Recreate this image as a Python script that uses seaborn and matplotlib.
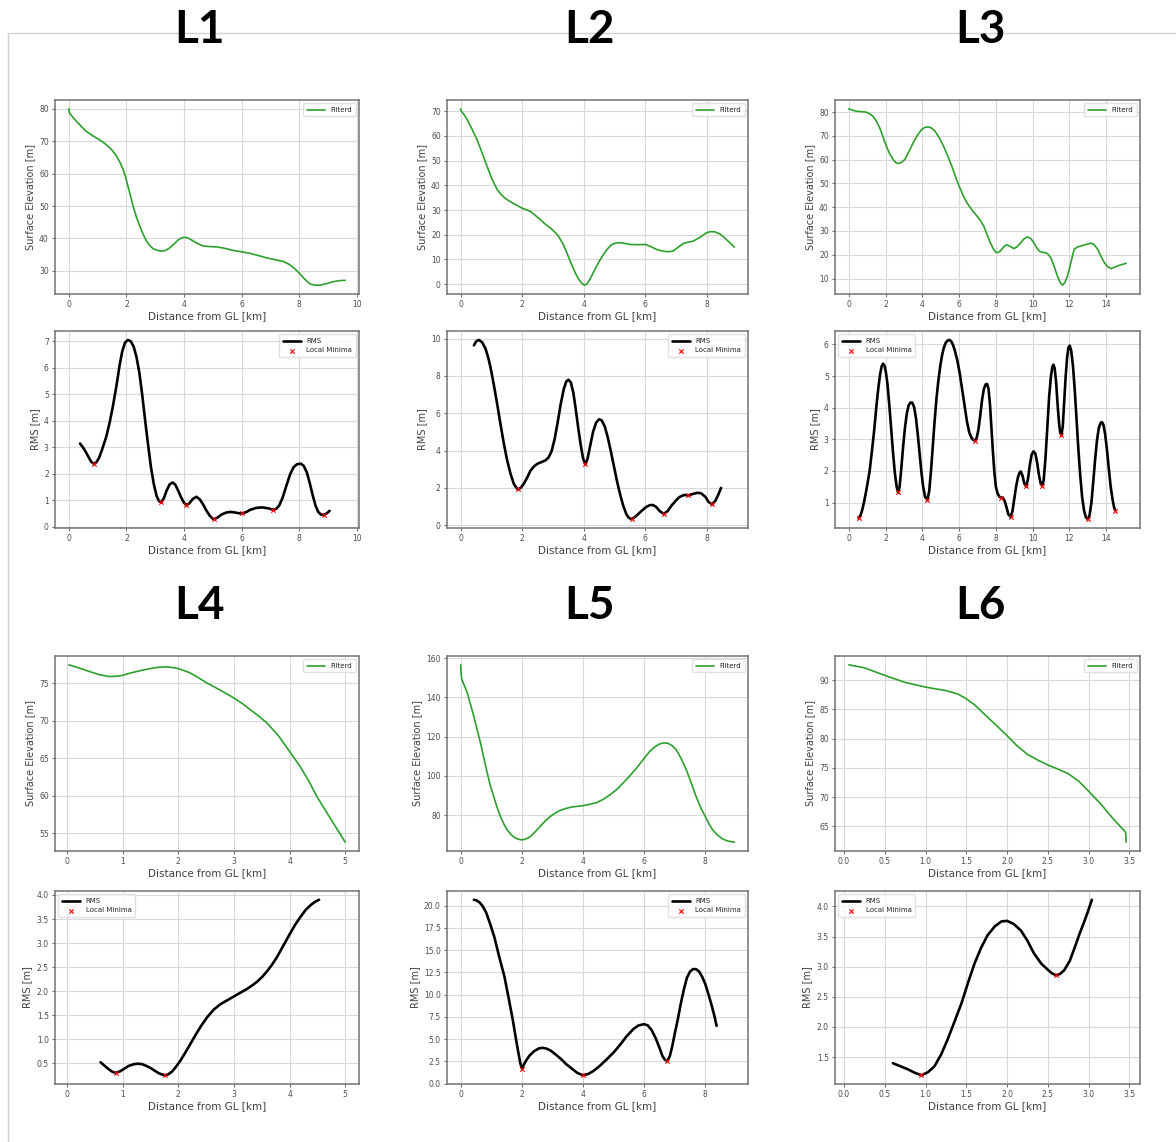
import matplotlib
matplotlib.use("Agg")
import matplotlib.pyplot as plt
import seaborn as sns
import pandas as pd
from matplotlib.lines import Line2D

sns.set_theme(style="whitegrid")
plt.rcParams['font.family'] = ['DejaVu Sans']

# ---------------- data ----------------
L1_elev_x = [0, 0.02, 0.13, 0.26, 0.43, 0.6, 0.83, 1.07, 1.25, 1.42, 1.55, 1.65, 1.77, 1.88, 1.97, 2.05, 2.14, 2.23, 2.34, 2.46, 2.58, 2.69, 2.8, 2.92, 3.05, 3.2, 3.35, 3.5, 3.65, 3.8, 3.92, 4.02, 4.15, 4.32, 4.5, 4.66, 4.9, 5.13, 5.4, 5.71, 6.0, 6.29, 6.6, 6.87, 7.15, 7.45, 7.65, 7.8, 7.92, 8.03, 8.15, 8.26, 8.38, 8.49, 8.6, 8.72, 8.95, 9.19, 9.4, 9.59]
L1_elev_y = [80.0, 78.8, 77.5, 76.2, 74.6, 73.1, 71.7, 70.4, 69.3, 68.0, 66.7, 65.5, 63.6, 61.4, 59.0, 56.2, 53.2, 50.0, 46.8, 43.9, 41.3, 39.3, 37.9, 36.9, 36.4, 36.1, 36.3, 37.1, 38.3, 39.6, 40.2, 40.4, 40.1, 39.2, 38.3, 37.7, 37.5, 37.4, 37.0, 36.3, 35.9, 35.4, 34.7, 34.0, 33.5, 32.9, 32.0, 31.0, 30.0, 29.0, 27.8, 26.8, 26.0, 25.7, 25.6, 25.6, 26.1, 26.7, 27.0, 27.1]
L1_rms_x = [0.39, 0.5, 0.6, 0.7, 0.78, 0.86, 0.95, 1.05, 1.15, 1.3, 1.42, 1.53, 1.65, 1.76, 1.85, 1.95, 2.05, 2.15, 2.25, 2.35, 2.45, 2.55, 2.65, 2.75, 2.85, 2.95, 3.05, 3.13, 3.21, 3.3, 3.4, 3.5, 3.6, 3.7, 3.8, 3.9, 4.0, 4.08, 4.18, 4.3, 4.43, 4.55, 4.66, 4.78, 4.9, 5.0, 5.05, 5.15, 5.3, 5.45, 5.6, 5.75, 5.9, 6.0, 6.15, 6.3, 6.5, 6.7, 6.9, 7.1, 7.2, 7.3, 7.42, 7.55, 7.68, 7.8, 7.92, 8.05, 8.15, 8.26, 8.36, 8.46, 8.56, 8.66, 8.75, 8.85, 8.95, 9.05]
L1_rms_y = [3.14, 2.98, 2.8, 2.6, 2.45, 2.38, 2.42, 2.6, 2.9, 3.4, 3.95, 4.55, 5.3, 6.08, 6.6, 6.95, 7.05, 7.0, 6.8, 6.4, 5.8, 4.95, 4.0, 3.1, 2.25, 1.6, 1.15, 0.97, 0.92, 1.08, 1.38, 1.6, 1.67, 1.58, 1.35, 1.1, 0.9, 0.82, 0.88, 1.05, 1.13, 1.03, 0.84, 0.6, 0.4, 0.3, 0.29, 0.34, 0.46, 0.53, 0.56, 0.54, 0.51, 0.5, 0.55, 0.64, 0.71, 0.73, 0.7, 0.64, 0.68, 0.8, 1.1, 1.55, 1.98, 2.25, 2.36, 2.38, 2.3, 2.05, 1.65, 1.2, 0.8, 0.55, 0.46, 0.45, 0.5, 0.6]
L1_min_x = [0.86, 3.21, 4.08, 5.05, 6.0, 7.1, 8.85]
L1_min_y = [2.38, 0.92, 0.82, 0.29, 0.5, 0.64, 0.45]

L2_elev_x = [0, 0.02, 0.12, 0.22, 0.38, 0.54, 0.7, 0.86, 1.02, 1.19, 1.35, 1.51, 1.75, 1.99, 2.26, 2.42, 2.59, 2.75, 2.91, 3.05, 3.18, 3.32, 3.45, 3.58, 3.72, 3.83, 3.94, 4.02, 4.1, 4.2, 4.31, 4.42, 4.53, 4.64, 4.77, 4.91, 5.05, 5.18, 5.34, 5.5, 5.75, 6.0, 6.18, 6.36, 6.52, 6.68, 6.8, 6.9, 7.06, 7.22, 7.38, 7.55, 7.78, 7.98, 8.12, 8.25, 8.4, 8.52, 8.7, 8.89]
L2_elev_y = [71.0, 70.0, 68.5, 66.4, 62.5, 58.3, 53.0, 47.6, 42.5, 38.2, 35.8, 34.2, 32.4, 30.8, 29.5, 27.9, 26.1, 24.3, 22.8, 21.2, 19.4, 16.4, 12.7, 8.6, 4.7, 2.0, 0.3, -0.4, 0.1, 2.0, 4.7, 7.4, 9.9, 12.1, 14.3, 16.1, 16.7, 16.8, 16.5, 16.1, 16.0, 16.1, 15.2, 14.1, 13.5, 13.2, 13.2, 13.4, 14.9, 16.4, 17.0, 17.4, 19.0, 20.8, 21.3, 21.2, 20.5, 19.4, 17.3, 15.0]
L2_rms_x = [0.43, 0.5, 0.59, 0.7, 0.81, 0.9, 0.97, 1.08, 1.19, 1.3, 1.4, 1.5, 1.62, 1.73, 1.85, 1.95, 2.05, 2.16, 2.26, 2.38, 2.5, 2.62, 2.75, 2.85, 2.95, 3.05, 3.15, 3.25, 3.35, 3.43, 3.5, 3.58, 3.66, 3.74, 3.82, 3.9, 3.98, 4.05, 4.12, 4.2, 4.3, 4.4, 4.5, 4.58, 4.68, 4.78, 4.88, 4.98, 5.08, 5.18, 5.28, 5.38, 5.46, 5.55, 5.65, 5.77, 5.9, 6.03, 6.15, 6.25, 6.35, 6.47, 6.6, 6.72, 6.85, 6.98, 7.1, 7.25, 7.4, 7.55, 7.7, 7.82, 7.95, 8.05, 8.17, 8.27, 8.36, 8.46]
L2_rms_y = [9.64, 9.85, 9.93, 9.8, 9.45, 8.95, 8.45, 7.5, 6.45, 5.35, 4.4, 3.55, 2.75, 2.2, 1.92, 2.0, 2.22, 2.55, 2.9, 3.15, 3.3, 3.38, 3.47, 3.62, 3.95, 4.6, 5.5, 6.5, 7.3, 7.7, 7.8, 7.65, 7.1, 6.2, 5.2, 4.3, 3.55, 3.27, 3.55, 4.2, 5.0, 5.5, 5.68, 5.62, 5.3, 4.7, 3.95, 3.15, 2.35, 1.65, 1.05, 0.6, 0.4, 0.33, 0.42, 0.6, 0.8, 0.98, 1.08, 1.08, 0.98, 0.75, 0.61, 0.75, 1.05, 1.3, 1.5, 1.62, 1.6, 1.68, 1.74, 1.7, 1.52, 1.25, 1.12, 1.3, 1.6, 2.0]
L2_min_x = [1.85, 4.05, 5.55, 6.6, 7.4, 8.17]
L2_min_y = [1.92, 3.27, 0.33, 0.61, 1.6, 1.12]

L3_elev_x = [0, 0.2, 0.4, 0.7, 0.95, 1.13, 1.31, 1.5, 1.68, 1.86, 2.04, 2.22, 2.41, 2.55, 2.68, 2.85, 3.05, 3.27, 3.5, 3.73, 3.96, 4.14, 4.32, 4.5, 4.69, 4.92, 5.15, 5.38, 5.6, 5.8, 6.0, 6.21, 6.42, 6.7, 6.97, 7.15, 7.34, 7.52, 7.7, 7.86, 8.01, 8.13, 8.25, 8.42, 8.58, 8.78, 8.98, 9.16, 9.34, 9.52, 9.71, 9.9, 10.07, 10.2, 10.35, 10.53, 10.71, 10.85, 10.99, 11.17, 11.35, 11.5, 11.62, 11.75, 11.9, 12.08, 12.26, 12.45, 12.63, 12.9, 13.18, 13.36, 13.54, 13.72, 13.9, 14.08, 14.27, 14.45, 14.63, 14.86, 15.09]
L3_elev_y = [81.4, 80.8, 80.4, 80.2, 80.0, 79.3, 78.3, 76.2, 73.4, 69.6, 65.7, 62.5, 60.1, 58.8, 58.4, 58.8, 60.1, 63.4, 67.1, 70.3, 72.7, 73.6, 73.8, 73.3, 72.0, 69.2, 65.7, 61.6, 57.3, 53.0, 48.9, 45.1, 41.9, 38.8, 36.3, 34.5, 32.1, 28.5, 25.1, 22.5, 20.9, 21.0, 21.6, 23.3, 24.2, 23.5, 22.6, 23.4, 24.9, 26.6, 27.5, 26.8, 25.1, 23.2, 21.6, 21.0, 20.9, 20.2, 18.8, 15.1, 11.1, 8.3, 7.2, 8.2, 11.1, 16.6, 22.3, 23.3, 23.7, 24.3, 24.9, 24.2, 22.3, 19.4, 16.7, 15.0, 14.2, 14.7, 15.3, 15.9, 16.4]
L3_rms_x = [0.53, 0.62, 0.72, 0.82, 0.92, 1.02, 1.13, 1.25, 1.38, 1.5, 1.6, 1.7, 1.78, 1.86, 1.94, 2.02, 2.1, 2.2, 2.3, 2.4, 2.5, 2.6, 2.68, 2.76, 2.85, 2.95, 3.05, 3.15, 3.25, 3.35, 3.45, 3.55, 3.65, 3.75, 3.85, 3.95, 4.05, 4.15, 4.27, 4.37, 4.47, 4.57, 4.67, 4.77, 4.87, 4.97, 5.07, 5.17, 5.27, 5.37, 5.47, 5.57, 5.67, 5.77, 5.9, 6.03, 6.16, 6.3, 6.43, 6.56, 6.7, 6.8, 6.88, 6.96, 7.05, 7.15, 7.25, 7.35, 7.45, 7.52, 7.6, 7.68, 7.76, 7.84, 7.92, 8.0, 8.1, 8.2, 8.28, 8.38, 8.48, 8.58, 8.68, 8.8, 8.9, 9.0, 9.1, 9.2, 9.3, 9.36, 9.45, 9.55, 9.65, 9.75, 9.85, 9.95, 10.05, 10.15, 10.25, 10.35, 10.45, 10.53, 10.6, 10.7, 10.8, 10.9, 11.0, 11.07, 11.13, 11.2, 11.28, 11.36, 11.44, 11.5, 11.57, 11.64, 11.72, 11.8, 11.88, 11.95, 12.02, 12.1, 12.2, 12.3, 12.4, 12.5, 12.6, 12.7, 12.8, 12.9, 13.0, 13.1, 13.2, 13.3, 13.4, 13.5, 13.6, 13.7, 13.78, 13.86, 13.95, 14.05, 14.15, 14.25, 14.35, 14.43, 14.5]
L3_rms_y = [0.51, 0.58, 0.75, 1.0, 1.3, 1.62, 2.0, 2.6, 3.3, 4.05, 4.6, 5.05, 5.3, 5.39, 5.33, 5.1, 4.75, 4.1, 3.35, 2.6, 1.95, 1.5, 1.32, 1.5, 2.05, 2.75, 3.35, 3.8, 4.07, 4.16, 4.16, 4.02, 3.68, 3.15, 2.55, 1.95, 1.48, 1.18, 1.08, 1.35, 2.0, 2.8, 3.6, 4.3, 4.85, 5.3, 5.65, 5.9, 6.05, 6.12, 6.14, 6.1, 5.98, 5.8, 5.5, 5.1, 4.6, 4.05, 3.55, 3.2, 3.02, 2.97, 2.96, 3.05, 3.3, 3.75, 4.25, 4.6, 4.74, 4.75, 4.6, 4.1, 3.35, 2.6, 1.95, 1.5, 1.28, 1.18, 1.16, 1.15, 1.05, 0.85, 0.63, 0.55, 0.72, 1.1, 1.5, 1.8, 1.96, 1.98, 1.85, 1.6, 1.51, 1.75, 2.2, 2.52, 2.62, 2.55, 2.25, 1.85, 1.58, 1.53, 1.7, 2.4, 3.4, 4.35, 5.0, 5.28, 5.36, 5.25, 4.8, 4.1, 3.5, 3.22, 3.14, 3.4, 4.2, 5.0, 5.6, 5.9, 5.96, 5.8, 5.3, 4.5, 3.55, 2.6, 1.8, 1.15, 0.75, 0.53, 0.48, 0.6, 1.0, 1.65, 2.35, 2.95, 3.35, 3.52, 3.54, 3.45, 3.15, 2.65, 2.05, 1.5, 1.1, 0.86, 0.75]
L3_min_x = [0.53, 2.68, 4.27, 6.88, 8.28, 8.8, 9.65, 10.53, 11.57, 13.0, 14.5]
L3_min_y = [0.51, 1.32, 1.08, 2.96, 1.16, 0.55, 1.51, 1.53, 3.14, 0.48, 0.75]

L4_elev_x = [0.03, 0.15, 0.28, 0.43, 0.58, 0.76, 0.9, 1.0, 1.15, 1.3, 1.45, 1.6, 1.78, 1.9, 1.99, 2.1, 2.2, 2.35, 2.5, 2.75, 2.99, 3.15, 3.29, 3.45, 3.59, 3.8, 4.0, 4.19, 4.35, 4.49, 4.64, 4.79, 4.9, 5.0]
L4_elev_y = [77.46, 77.2, 76.88, 76.5, 76.15, 75.9, 75.95, 76.07, 76.4, 76.66, 76.9, 77.1, 77.2, 77.1, 76.97, 76.7, 76.43, 75.8, 75.1, 74.1, 73.08, 72.3, 71.5, 70.6, 69.72, 68.0, 65.9, 63.9, 61.9, 59.9, 58.1, 56.3, 55.0, 53.8]
L4_rms_x = [0.6, 0.66, 0.72, 0.8, 0.87, 0.95, 1.02, 1.1, 1.2, 1.27, 1.35, 1.43, 1.5, 1.58, 1.65, 1.72, 1.76, 1.82, 1.89, 1.96, 2.04, 2.13, 2.22, 2.31, 2.4, 2.52, 2.64, 2.76, 2.88, 3.0, 3.12, 3.24, 3.33, 3.42, 3.51, 3.6, 3.69, 3.78, 3.89, 4.0, 4.1, 4.2, 4.29, 4.38, 4.46, 4.53]
L4_rms_y = [0.52, 0.46, 0.4, 0.33, 0.3, 0.33, 0.38, 0.44, 0.48, 0.49, 0.48, 0.44, 0.4, 0.34, 0.29, 0.26, 0.25, 0.27, 0.33, 0.43, 0.56, 0.73, 0.91, 1.09, 1.26, 1.46, 1.62, 1.73, 1.81, 1.89, 1.97, 2.05, 2.12, 2.2, 2.3, 2.42, 2.56, 2.72, 2.95, 3.18, 3.38, 3.55, 3.69, 3.79, 3.86, 3.9]
L4_min_x = [0.87, 1.76]
L4_min_y = [0.3, 0.25]

L5_elev_x = [0.0, 0.01, 0.03, 0.12, 0.22, 0.32, 0.43, 0.54, 0.65, 0.76, 0.87, 0.97, 1.08, 1.19, 1.3, 1.41, 1.52, 1.63, 1.74, 1.86, 1.98, 2.1, 2.2, 2.28, 2.44, 2.6, 2.76, 2.93, 3.1, 3.25, 3.45, 3.63, 3.82, 4.0, 4.22, 4.45, 4.66, 4.88, 5.1, 5.31, 5.53, 5.75, 5.97, 6.18, 6.35, 6.51, 6.65, 6.78, 6.92, 7.05, 7.2, 7.38, 7.55, 7.7, 7.85, 8.0, 8.12, 8.24, 8.4, 8.57, 8.75, 8.95]
L5_elev_y = [156.6, 153.0, 149.5, 146.0, 142.2, 136.5, 130.3, 123.5, 116.7, 109.0, 101.4, 95.0, 89.5, 84.0, 79.3, 75.5, 72.5, 70.3, 68.8, 67.8, 67.4, 67.6, 68.3, 69.1, 71.5, 74.2, 76.9, 79.3, 81.1, 82.4, 83.4, 84.1, 84.5, 84.8, 85.5, 86.4, 88.0, 90.3, 93.0, 96.3, 100.0, 103.9, 108.3, 112.4, 114.8, 116.3, 116.8, 116.6, 115.4, 113.3, 109.2, 103.1, 96.0, 89.5, 83.8, 79.3, 75.6, 72.5, 69.8, 67.8, 66.7, 66.2]
L5_rms_x = [0.43, 0.52, 0.62, 0.72, 0.83, 0.95, 1.1, 1.25, 1.43, 1.57, 1.7, 1.8, 1.88, 1.95, 2.0, 2.06, 2.14, 2.25, 2.4, 2.55, 2.67, 2.8, 2.94, 3.1, 3.27, 3.45, 3.65, 3.82, 4.0, 4.18, 4.35, 4.55, 4.78, 5.0, 5.21, 5.42, 5.65, 5.82, 6.0, 6.12, 6.25, 6.38, 6.5, 6.6, 6.68, 6.76, 6.84, 6.92, 7.0, 7.1, 7.2, 7.3, 7.4, 7.5, 7.6, 7.7, 7.8, 7.9, 8.0, 8.1, 8.2, 8.3, 8.37]
L5_rms_y = [20.67, 20.6, 20.37, 19.95, 19.26, 18.1, 16.49, 14.4, 12.05, 9.6, 7.25, 5.2, 3.6, 2.3, 1.7, 2.1, 2.6, 3.15, 3.65, 3.95, 4.03, 3.95, 3.73, 3.3, 2.81, 2.2, 1.65, 1.2, 0.95, 1.1, 1.45, 2.0, 2.75, 3.5, 4.35, 5.3, 6.15, 6.55, 6.69, 6.55, 6.0, 5.1, 4.05, 3.1, 2.7, 2.55, 3.1, 4.2, 5.6, 7.2, 9.0, 10.6, 11.9, 12.6, 12.88, 12.87, 12.6, 12.0, 11.2, 10.1, 8.9, 7.6, 6.5]
L5_min_x = [2.0, 4.0, 6.76]
L5_min_y = [1.7, 0.95, 2.55]

L6_elev_x = [0.06, 0.25, 0.5, 0.75, 1.0, 1.25, 1.4, 1.5, 1.6, 1.75, 1.88, 2.0, 2.12, 2.25, 2.38, 2.5, 2.62, 2.75, 2.88, 3.0, 3.15, 3.3, 3.44, 3.455, 3.46]
L6_elev_y = [92.6, 92.1, 90.8, 89.6, 88.8, 88.2, 87.6, 86.8, 85.8, 83.8, 82.1, 80.5, 78.8, 77.3, 76.3, 75.5, 74.8, 74.0, 72.7, 71.0, 68.8, 66.3, 64.2, 63.9, 62.3]
L6_rms_x = [0.6, 0.69, 0.78, 0.87, 0.95, 1.03, 1.11, 1.19, 1.27, 1.35, 1.44, 1.52, 1.6, 1.68, 1.76, 1.85, 1.93, 2.0, 2.08, 2.17, 2.25, 2.33, 2.42, 2.5, 2.55, 2.6, 2.65, 2.7, 2.77, 2.83, 2.89, 2.95, 3.0, 3.04]
L6_rms_y = [1.4, 1.35, 1.3, 1.24, 1.2, 1.25, 1.35, 1.54, 1.79, 2.07, 2.39, 2.73, 3.05, 3.31, 3.52, 3.67, 3.75, 3.76, 3.71, 3.6, 3.43, 3.22, 3.05, 2.95, 2.89, 2.86, 2.88, 2.94, 3.1, 3.32, 3.55, 3.76, 3.95, 4.11]
L6_min_x = [0.95, 2.6]
L6_min_y = [1.2, 2.86]

titles = ["L1", "L2", "L3", "L4", "L5", "L6"]
rms_legend_loc = ["upper right", "upper right", "upper left", "upper left", "upper right", "upper left"]

panels = [
    (L1_elev_x, L1_elev_y, L1_rms_x, L1_rms_y, L1_min_x, L1_min_y),
    (L2_elev_x, L2_elev_y, L2_rms_x, L2_rms_y, L2_min_x, L2_min_y),
    (L3_elev_x, L3_elev_y, L3_rms_x, L3_rms_y, L3_min_x, L3_min_y),
    (L4_elev_x, L4_elev_y, L4_rms_x, L4_rms_y, L4_min_x, L4_min_y),
    (L5_elev_x, L5_elev_y, L5_rms_x, L5_rms_y, L5_min_x, L5_min_y),
    (L6_elev_x, L6_elev_y, L6_rms_x, L6_rms_y, L6_min_x, L6_min_y),
]

# ---------------- layout ----------------
W, H = 1176, 1142
fig = plt.figure(figsize=(W / 100, H / 100), dpi=100)
fig.patch.set_facecolor("white")

cols = [(55, 359), (447, 748), (835, 1140)]
rows = [(100, 294), (331, 528), (656, 851), (891, 1084)]
title_pos = [(200, 30), (590, 30), (980, 30), (200, 606), (590, 606), (980, 606)]

# screenshot frame lines
fig.add_artist(Line2D([8 / W, 1], [1 - 33 / H, 1 - 33 / H], color="0.82", lw=1.0, zorder=0))
fig.add_artist(Line2D([8 / W, 8 / W], [1 - 33 / H, 0], color="0.82", lw=1.0, zorder=0))


def add_ax(c, r):
    x0, x1 = cols[c]
    y0, y1 = rows[r]
    return fig.add_axes([x0 / W, 1 - y1 / H, (x1 - x0) / W, (y1 - y0) / H])


def style(ax, ylabel):
    ax.set_facecolor("white")
    for s in ax.spines.values():
        s.set_color("0.45")
        s.set_linewidth(1.1)
    ax.grid(True, color="0.85", lw=0.8)
    ax.tick_params(axis="both", labelsize=5.5, colors="0.3", length=2.5, width=0.6,
                   bottom=True, left=True, pad=2)
    ax.set_xlabel("Distance from GL [km]", fontsize=7.5, color="0.25", labelpad=1)
    ax.set_ylabel(ylabel, fontsize=7, color="0.25", labelpad=3)


for i, (ex, ey, rx, ry, mx, my) in enumerate(panels):
    c = i % 3
    r0 = (i // 3) * 2
    ax1 = add_ax(c, r0)
    ax2 = add_ax(c, r0 + 1)

    df_e = pd.DataFrame({"x": ex, "y": ey})
    sns.lineplot(data=df_e, x="x", y="y", ax=ax1, color="tab:green", lw=1.2,
                 label="Filterd", sort=False, estimator=None)
    style(ax1, "Surface Elevation [m]")
    ax1.legend(loc="upper right", fontsize=5, frameon=True, handlelength=2.6,
               borderpad=0.5, facecolor="white", edgecolor="0.85")

    df_r = pd.DataFrame({"x": rx, "y": ry})
    df_m = pd.DataFrame({"x": mx, "y": my})
    sns.lineplot(data=df_r, x="x", y="y", ax=ax2, color="black", lw=1.9,
                 label="RMS", sort=False, estimator=None)
    sns.scatterplot(data=df_m, x="x", y="y", ax=ax2, color="red", marker="x",
                    s=10, linewidth=0.8, label="Local Minima", zorder=3)
    style(ax2, "RMS [m]")
    ax2.set_xlim(ax1.get_xlim())
    ax2.legend(loc=rms_legend_loc[i], fontsize=5, frameon=True, handlelength=2.6,
               borderpad=0.5, facecolor="white", edgecolor="0.85")

    tx, ty = title_pos[i]
    fig.text(tx / W, 1 - ty / H, titles[i], ha="center", va="center",
             fontsize=33, fontweight="bold", family=["Lato", "DejaVu Sans"], color="black")

fig.savefig("out.png", dpi=100, facecolor="white")
